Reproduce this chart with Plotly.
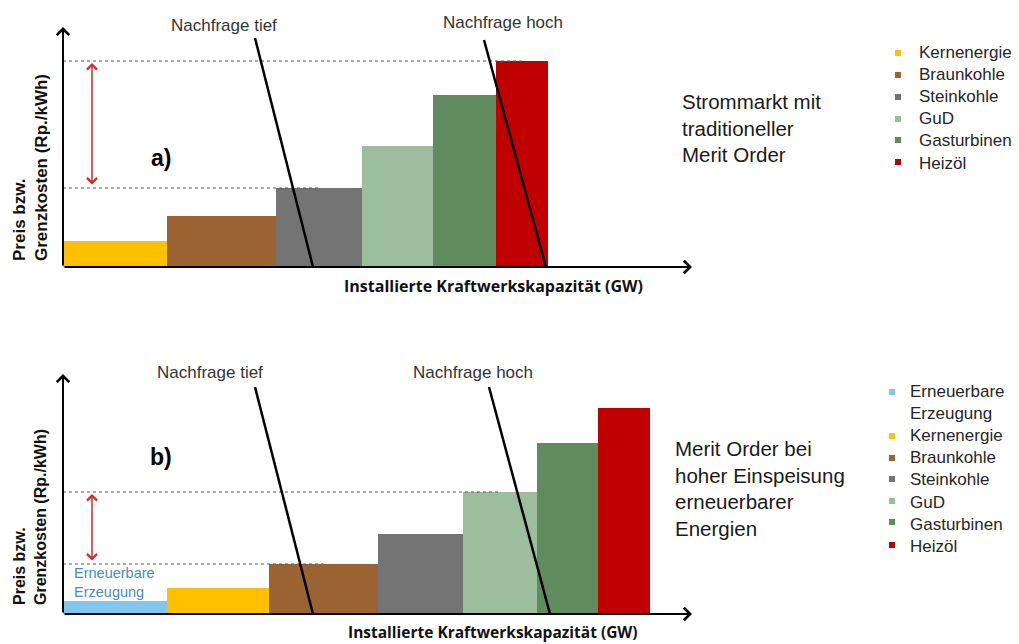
import plotly.graph_objects as go
import numpy as np

# ---------------- data ----------------
cats_a = ["Kernenergie", "Braunkohle", "Steinkohle", "GuD", "Gasturbinen", "Heizöl"]
cap_a = [10.4, 10.9, 8.6, 7.1, 6.3, 5.2]          # installierte Leistung (GW, schematisch)
price_a = [1.3, 2.55, 3.95, 6.05, 8.6, 10.3]      # Grenzkosten (schematisch)

cats_b = ["Erneuerbare Erzeugung", "Kernenergie", "Braunkohle", "Steinkohle", "GuD", "Gasturbinen", "Heizöl"]
cap_b = [10.4, 10.2, 10.9, 8.5, 7.4, 6.1, 5.2]
price_b = [0.65, 1.3, 2.5, 4.0, 6.1, 8.55, 10.3]

legend_a = ["Kernenergie", "Braunkohle", "Steinkohle", "GuD", "Gasturbinen", "Heizöl"]
legend_b = ["Erneuerbare<br>Erzeugung", "Kernenergie", "Braunkohle", "Steinkohle", "GuD", "Gasturbinen", "Heizöl"]

# demand curves (x = capacity, y = price)
dem_low_a_x, dem_low_a_y = [19.2, 25.0], [11.45, 0.0]
dem_high_a_x, dem_high_a_y = [42.1, 48.3], [11.35, 0.0]
dem_low_b_x, dem_low_b_y = [19.2, 25.0], [11.35, 0.0]
dem_high_b_x, dem_high_b_y = [42.6, 48.7], [11.35, 0.0]

marginal_a = ("Steinkohle", "Heizöl")
marginal_b = ("Braunkohle", "GuD")

colors = {
    "Erneuerbare Erzeugung": "#80C6EF",
    "Kernenergie": "#FFC000",
    "Braunkohle": "#9A6331",
    "Steinkohle": "#747474",
    "GuD": "#9DBE9C",
    "Gasturbinen": "#5F8B5E",
    "Heizöl": "#C00000",
}
legend_colors_a = [colors[c] for c in cats_a]
legend_colors_b = [colors[c] for c in cats_b]

W, H = 1019, 644
XR = [0, 62.9]
YR = [0, 12]


def px(x):
    return x / W


def py(y):
    return 1 - y / H


fig = go.Figure()
TXT = "#333333"
ARIAL = "Liberation Sans, Arial, sans-serif"


def add_panel(cats, caps, prices, xa, ya, marg, dem):
    caps = np.array(caps)
    right = np.cumsum(caps)
    left = right - caps
    center = left + caps / 2
    # dotted reference lines to marginal plants
    for m in marg:
        i = cats.index(m)
        fig.add_trace(go.Scatter(x=[0, center[i]], y=[prices[i], prices[i]], mode="lines",
                                 line=dict(color="#555555", width=1, dash="dot"),
                                 xaxis=xa, yaxis=ya, showlegend=False, hoverinfo="skip"))
    for i, c in enumerate(cats):
        fig.add_trace(go.Bar(x=[center[i]], y=[prices[i]], width=[caps[i]], name=c,
                             marker=dict(color=colors[c], line=dict(width=0)),
                             xaxis=xa, yaxis=ya, showlegend=False))
    for dx, dy in dem:
        fig.add_trace(go.Scatter(x=dx, y=dy, mode="lines", line=dict(color="black", width=2.5),
                                 xaxis=xa, yaxis=ya, showlegend=False, hoverinfo="skip"))
    # axes arrows
    fig.add_annotation(x=XR[1], y=0, ax=0, ay=0, xref=xa, yref=ya, axref=xa, ayref=ya,
                       showarrow=True, arrowhead=4, arrowsize=1.2, arrowwidth=2, arrowcolor="black",
                       text="", standoff=0)
    fig.add_annotation(x=0, y=YR[1], ax=0, ay=0, xref=xa, yref=ya, axref=xa, ayref=ya,
                       showarrow=True, arrowhead=4, arrowsize=1.2, arrowwidth=2, arrowcolor="black",
                       text="", standoff=0)
    lo = prices[cats.index(marg[0])]
    hi = prices[cats.index(marg[1])]
    fig.add_annotation(x=2.9, y=hi - 0.1, ax=2.9, ay=lo + 0.1, xref=xa, yref=ya, axref=xa, ayref=ya,
                       showarrow=True, arrowhead=4, startarrowhead=4, arrowside="end+start",
                       arrowsize=1.3, startarrowsize=1.3, arrowwidth=1.5, arrowcolor="#D9262B",
                       text="", standoff=0, startstandoff=0)


add_panel(cats_a, cap_a, price_a, "x", "y", marginal_a,
          [(dem_low_a_x, dem_low_a_y), (dem_high_a_x, dem_high_a_y)])
add_panel(cats_b, cap_b, price_b, "x2", "y2", marginal_b,
          [(dem_low_b_x, dem_low_b_y), (dem_high_b_x, dem_high_b_y)])

ax_common = dict(visible=False, showgrid=False, zeroline=False, fixedrange=True)
fig.update_layout(
    width=W, height=H,
    margin=dict(l=0, r=0, t=0, b=0),
    paper_bgcolor="white", plot_bgcolor="rgba(0,0,0,0)",
    barmode="overlay",
    showlegend=False,
    xaxis=dict(domain=[px(63), px(692)], range=XR, anchor="y", **ax_common),
    yaxis=dict(domain=[py(267), py(27)], range=YR, anchor="x", **ax_common),
    xaxis2=dict(domain=[px(63), px(692)], range=XR, anchor="y2", **ax_common),
    yaxis2=dict(domain=[py(614), py(374)], range=YR, anchor="x2", **ax_common),
    font=dict(family=ARIAL, color=TXT),
)


def ann(x, y, text, size, **kw):
    d = dict(x=px(x), y=py(y), xref="paper", yref="paper", text=text, showarrow=False,
             xanchor="center", yanchor="middle",
             font=dict(size=size, family=kw.pop("family", ARIAL), color=kw.pop("color", TXT)))
    d.update(kw)
    fig.add_annotation(**d)


# demand labels
ann(224, 25, "Nachfrage tief", 17)
ann(503, 23, "Nachfrage hoch", 17)
ann(210, 372, "Nachfrage tief", 17)
ann(473, 372, "Nachfrage hoch", 17)

# panel letters
ann(161, 158, "<b>a)</b>", 23, color="black")
ann(161, 457, "<b>b)</b>", 23, color="black")

# renewable label inside panel b
ann(72, 582, "Erneuerbare<br>Erzeugung", 14.5, color="#4A8CBF", xanchor="left", align="left")

# axis titles
XT_FONT = "Open Sans, sans-serif"
ann(493, 286, "<b>Installierte Kraftwerkskapazität (GW)</b>", 16, family=XT_FONT, color="#111111")
ann(493, 632, "<b>Installierte Kraftwerkskapazität (GW)</b>", 15.5, family=XT_FONT, color="#111111")
ann(30, 168, "<b>Preis bzw.<br>Grenzkosten (Rp./kWh)</b>", 17, textangle=-90, align="left", color="#111111")
ann(30, 517, "<b>Preis bzw.<br>Grenzkosten (Rp./kWh)</b>", 16, textangle=-90, align="left", color="#111111")

# side descriptions
ann(680, 128, "Strommarkt mit<br>traditioneller<br>Merit Order", 20.5, xanchor="left", align="left", color="#1a1a1a")
ann(673, 488.5, "Merit Order bei<br>hoher Einspeisung<br>erneuerbarer<br>Energien", 20.5, xanchor="left",
    align="left", color="#1a1a1a")

# legends
ann(917, 107.5, "<br>".join(legend_a), 17, xanchor="left", align="left", color="#262626")
ann(908, 468.5, "<br>".join(legend_b), 17, xanchor="left", align="left", color="#262626")

rows_a = [53, 75, 97, 119, 140, 162]
rows_b = [392, 436, 458, 479, 501, 522, 545]
for yy, c in zip(rows_a, legend_colors_a):
    fig.add_shape(type="rect", xref="paper", yref="paper", x0=px(895), x1=px(901), y0=py(yy + 3), y1=py(yy - 3),
                  fillcolor=c, line=dict(width=0))
for yy, c in zip(rows_b, legend_colors_b):
    fig.add_shape(type="rect", xref="paper", yref="paper", x0=px(889), x1=px(895), y0=py(yy + 3), y1=py(yy - 3),
                  fillcolor=c, line=dict(width=0))

fig.write_html("out.html", config={"displayModeBar": False},
               post_script="document.body.style.margin='0';document.body.style.overflow='hidden';")
